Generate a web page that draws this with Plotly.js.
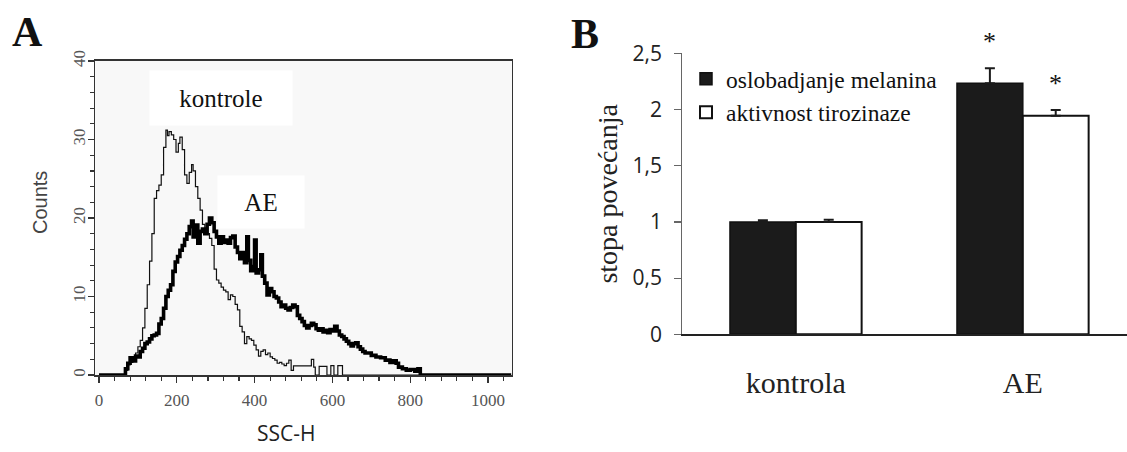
<!DOCTYPE html>
<html>
<head>
<meta charset="utf-8">
<script src="https://cdn.plot.ly/plotly-3.0.1.min.js"></script>
<style>html,body{margin:0;padding:0;background:#fff;}#chart{width:1127px;height:452px;}</style>
</head>
<body>
<div id="chart"></div>
<script>
// ---------- Panel A: flow cytometry histograms (SSC-H channel vs counts) ----------
const ctrlX = [0, 68, 74, 80, 87, 94, 100, 106, 112, 118, 124, 130, 136, 142, 148, 154, 160, 166, 172, 176, 180, 186, 192, 198, 204, 208, 214, 220, 226, 232, 238, 242, 248, 254, 260, 266, 272, 278, 284, 290, 296, 302, 308, 314, 320, 326, 332, 338, 344, 350, 356, 362, 368, 374, 380, 386, 392, 398, 404, 410, 416, 422, 428, 434, 440, 446, 452, 458, 464, 470, 476, 482, 488, 494, 500, 546, 552, 556, 566, 586, 596, 604, 614, 626, 1023];
const ctrlY = [0, 0.6, 1.3, 1.6, 2.0, 2.8, 3.6, 4.4, 6.0, 8.5, 11.5, 14.5, 18, 22.5, 23.5, 24.2, 25.5, 29, 31.2, 30.5, 31, 30.6, 30, 28.4, 29.5, 30.3, 28.7, 25.5, 24.4, 25.8, 26.8, 26, 24, 22.5, 21, 19.2, 18.5, 18, 17.4, 16.5, 13.5, 12.1, 11.7, 11.2, 10.8, 10.6, 9.6, 10.2, 10, 9, 8.3, 6.2, 5.5, 4, 4.9, 4.6, 4.4, 3.8, 3.2, 2.4, 3.0, 3.2, 2.6, 2.8, 2.3, 2.1, 1.9, 1.5, 1.6, 1.4, 1.2, 1.5, 1.9, 0.6, 1.15, 2.0, 1.0, 0, 1.1, 0, 1.2, 0, 1.2, 0, 0];

const aeX = [0, 68, 74, 80, 87, 94, 100, 106, 112, 118, 124, 130, 136, 142, 148, 154, 160, 166, 172, 178, 184, 190, 196, 202, 208, 214, 220, 226, 232, 238, 242, 248, 254, 260, 266, 272, 278, 284, 290, 296, 302, 308, 314, 320, 326, 332, 338, 344, 350, 356, 362, 368, 374, 380, 384, 390, 396, 400, 404, 410, 416, 420, 426, 432, 438, 444, 450, 456, 462, 468, 474, 480, 486, 492, 498, 504, 510, 516, 522, 528, 534, 540, 546, 552, 558, 564, 570, 576, 582, 588, 594, 600, 606, 612, 618, 624, 630, 636, 642, 648, 654, 660, 666, 672, 678, 684, 690, 700, 712, 724, 736, 748, 756, 764, 770, 780, 790, 800, 812, 820, 826, 1060];
const aeY = [0, 0.8, 1.5, 2.2, 1.8, 2.4, 2.3, 3.0, 3.4, 4.0, 4.2, 4.6, 5.0, 5.1, 5.3, 6.5, 7.2, 8.5, 10, 10.8, 11.5, 13.2, 14.4, 15.1, 15.9, 16.5, 17.3, 18, 18.9, 19.6, 17.6, 19.1, 16.8, 18.3, 18.6, 18.0, 19.2, 20, 19.4, 18.3, 17.6, 16.8, 17.6, 16.9, 17.2, 16.8, 17.5, 17.7, 16.3, 15.6, 14.8, 15.6, 14.3, 17.6, 14.6, 13.3, 13.8, 17.2, 13.0, 13.4, 15.3, 12.6, 11.7, 10.2, 11.0, 10.6, 10.0, 9.8, 9.3, 8.7, 8.9, 8.5, 8.3, 8.6, 8.9, 8.7, 7.6, 7.2, 6.8, 6.3, 6.0, 6.3, 6.6, 6.4, 5.9, 5.7, 5.9, 5.5, 5.7, 5.4, 5.8, 5.6, 6.2, 5.6, 5.1, 4.9, 4.6, 4.3, 4.0, 3.7, 4.0, 4.1, 3.6, 3.3, 3.0, 2.8, 2.8, 2.5, 2.3, 2.2, 1.9, 1.6, 1.8, 1.5, 1.0, 0.8, 0.6, 0.7, 0.5, 0.8, 0, 0];

const histTickVals = [0, 200, 400, 600, 800, 1000];
const countTickVals = [0, 10, 20, 30, 40];

// ---------- Panel B: bar chart ----------
const categories = ['kontrola', 'AE'];
const melaninName = 'oslobadjanje melanina';
const melanin = [1.0, 2.233];
const melaninErr = [0.015, 0.134];
const tyrosinaseName = 'aktivnost tirozinaze';
const tyrosinase = [1.0, 1.945];
const tyrosinaseErr = [0.02, 0.05];
const melaninSig = ['', '*'];
const tyrosinaseSig = ['', '*'];

const serif = '"Liberation Serif", "Times New Roman", serif';

const traces = [
  {type: 'scatter', mode: 'lines', x: ctrlX, y: ctrlY, xaxis: 'x', yaxis: 'y',
   line: {shape: 'hv', color: '#111', width: 1.2}, showlegend: false, cliponaxis: false, hoverinfo: 'skip'},
  {type: 'scatter', mode: 'lines', x: aeX, y: aeY, xaxis: 'x', yaxis: 'y',
   line: {shape: 'hv', color: '#000', width: 3.6}, showlegend: false, cliponaxis: false, hoverinfo: 'skip'},
  {type: 'bar', name: melaninName, x: categories, y: melanin, xaxis: 'x2', yaxis: 'y2',
   marker: {color: '#1b1b1b', line: {color: '#111', width: 1.5}},
   error_y: {type: 'data', symmetric: false, array: melaninErr, arrayminus: [0, 0], color: '#1b1b1b', thickness: 2, width: 5}},
  {type: 'bar', name: tyrosinaseName, x: categories, y: tyrosinase, xaxis: 'x2', yaxis: 'y2',
   marker: {color: '#ffffff', line: {color: '#111', width: 2}},
   error_y: {type: 'data', symmetric: false, array: tyrosinaseErr, arrayminus: [0, 0], color: '#1b1b1b', thickness: 2, width: 5}}
];

const annotations = [
  {text: '<b>A</b>', xref: 'paper', yref: 'paper', x: 27 / 1127, y: 1 - 32 / 452, xanchor: 'center', yanchor: 'middle', showarrow: false, font: {family: serif, size: 42, color: '#111'}},
  {text: '<b>B</b>', xref: 'paper', yref: 'paper', x: 585 / 1127, y: 1 - 34 / 452, xanchor: 'center', yanchor: 'middle', showarrow: false, font: {family: serif, size: 42, color: '#111'}},
  {text: 'kontrole', xref: 'paper', yref: 'paper', x: 221 / 1127, y: 1 - 98 / 452, xanchor: 'center', yanchor: 'middle', showarrow: false, bgcolor: '#ffffff', width: 140, height: 52, font: {family: serif, size: 25, color: '#111'}},
  {text: 'AE', xref: 'paper', yref: 'paper', x: 261 / 1127, y: 1 - 202 / 452, xanchor: 'center', yanchor: 'middle', showarrow: false, bgcolor: '#ffffff', width: 84, height: 50, font: {family: serif, size: 25, color: '#111'}},
  {text: 'SSC-H', xref: 'paper', yref: 'paper', x: 286 / 1127, y: 1 - 433 / 452, xanchor: 'center', yanchor: 'middle', showarrow: false, font: {family: 'Open Sans, sans-serif', size: 21, color: '#222'}},
  {text: 'Counts', xref: 'paper', yref: 'paper', x: 40 / 1127, y: 1 - 203 / 452, xanchor: 'center', yanchor: 'middle', textangle: -90, showarrow: false, font: {family: 'Liberation Sans, Arial, sans-serif', size: 20, color: '#444'}}
];
// significance asterisks above error bars
categories.forEach((c, i) => {
  if (melaninSig[i]) annotations.push({text: melaninSig[i], xref: 'x2', yref: 'y2', x: i - 0.145, y: melanin[i] + melaninErr[i], yanchor: 'bottom', yshift: 10, showarrow: false, font: {family: serif, size: 26, color: '#111'}});
  if (tyrosinaseSig[i]) annotations.push({text: tyrosinaseSig[i], xref: 'x2', yref: 'y2', x: i + 0.145, y: tyrosinase[i] + tyrosinaseErr[i], yanchor: 'bottom', yshift: 10, showarrow: false, font: {family: serif, size: 26, color: '#111'}});
});

const layout = {
  width: 1127, height: 452,
  margin: {l: 0, r: 0, t: 0, b: 0, pad: 0},
  paper_bgcolor: '#ffffff', plot_bgcolor: 'rgba(0,0,0,0)',
  separators: ',.',
  font: {family: serif, color: '#111'},
  barmode: 'group', bargap: 0.42, bargroupgap: 0,
  showlegend: true,
  legend: {x: 686 / 1127, y: 1 - 57 / 452, xanchor: 'left', yanchor: 'top', bgcolor: 'rgba(0,0,0,0)',
           font: {family: serif, size: 23.5, color: '#111'}, itemwidth: 30, tracegroupgap: 0, traceorder: 'normal'},
  xaxis: {domain: [95.3 / 1127, 511.7 / 1127], range: [-9.5, 1061], anchor: 'y',
          tickmode: 'array', tickvals: histTickVals, ticks: 'outside', ticklen: 6, tickwidth: 1.2, tickcolor: '#333',
          showline: true, linecolor: '#333', linewidth: 1.6, mirror: true, showgrid: false, zeroline: false,
          tickfont: {family: serif, size: 17, color: '#555'}, ticklabelstandoff: 3,
          minor: {tick0: 0, dtick: 40, ticks: 'outside', ticklen: 4, tickwidth: 1.2, tickcolor: '#333', showgrid: false}},
  yaxis: {domain: [(452 - 375) / 452, (452 - 61) / 452], range: [0, 40], anchor: 'x',
          tickmode: 'array', tickvals: countTickVals, tickangle: -90, ticks: 'outside', ticklen: 6, tickwidth: 1.2, tickcolor: '#333',
          showline: true, linecolor: '#333', linewidth: 1.6, mirror: true, showgrid: false, zeroline: false,
          tickfont: {family: serif, size: 17, color: '#555'}, ticklabelstandoff: -4,
          minor: {tick0: 0, dtick: 2, ticks: 'outside', ticklen: 4, tickwidth: 1.2, tickcolor: '#333', showgrid: false}},
  xaxis2: {domain: [682.3 / 1127, 1], range: [-0.5, 1.459], type: 'category', anchor: 'y2',
           showline: true, linecolor: '#222', linewidth: 1.5, ticks: '', showgrid: false, zeroline: false,
           tickfont: {family: serif, size: 30, color: '#222'}, ticklabelstandoff: 21},
  yaxis2: {domain: [(452 - 334.3) / 452, (452 - 53.3) / 452], range: [0, 2.5], dtick: 0.5, tick0: 0, anchor: 'x2',
           showline: true, linecolor: '#666', linewidth: 1.2, ticks: 'outside', ticklen: 7, tickcolor: '#666', tickwidth: 1.2,
           showgrid: false, zeroline: false, tickfont: {family: 'Open Sans, sans-serif', size: 21, color: '#222'}, ticklabelstandoff: 8,
           title: {text: 'stopa povećanja', font: {family: serif, size: 28, color: '#222'}, standoff: 6}},
  shapes: [
    {type: 'rect', xref: 'x domain', yref: 'y domain', x0: 0, x1: 1, y0: 0, y1: 1, fillcolor: '#f8f8f8', line: {width: 0}, layer: 'below'}
  ],
  annotations: annotations
};

Plotly.newPlot('chart', traces, layout, {displayModeBar: false, staticPlot: true});
</script>
</body>
</html>
